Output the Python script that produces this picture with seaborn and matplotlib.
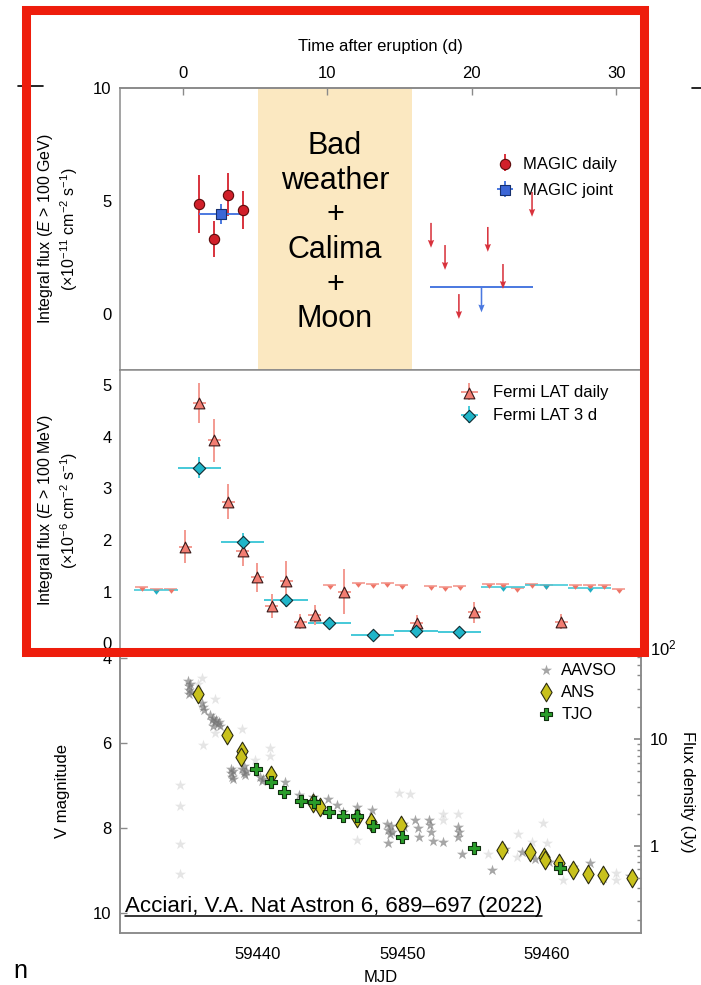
import numpy as np
import seaborn as sns
import matplotlib.pyplot as plt
from matplotlib.lines import Line2D
from matplotlib.patches import Rectangle
from matplotlib.markers import MarkerStyle
from matplotlib.legend_handler import HandlerTuple
from matplotlib.ticker import LogLocator, NullFormatter

# eruption time (MJD) used for the upper axis
T0 = 59434.8
X_RANGE = (59430.45, 59466.5)
bad_weather = (59440.0, 59450.65)

# MAGIC, flux in 1e-11 cm^-2 s^-1
magic_mjd = [59435.92, 59436.95, 59437.92, 59438.96]
magic_flux = [4.87, 3.32, 5.27, 4.60]
magic_err = [1.30, 0.78, 0.95, 0.82]
magic_joint_mjd = [59437.45]
magic_joint_flux = [4.42]
magic_joint_xerr = [1.52]
magic_joint_err = [0.46]
magic_ul_mjd = [59451.97, 59452.94, 59453.90, 59455.90, 59456.95, 59458.96]
magic_ul = [4.03, 3.05, 0.88, 3.85, 2.21, 5.40]
magic_joint_ul_mjd = [59455.45]
magic_joint_ul = [1.20]
magic_joint_ul_xerr = [3.55]

# Fermi LAT, flux in 1e-6 cm^-2 s^-1
lat_mjd = [59434.95, 59435.94, 59436.96, 59437.95, 59438.94, 59439.95, 59440.95,
           59441.94, 59442.93, 59443.94, 59445.97, 59450.98, 59454.97, 59460.97]
lat_flux = [1.87, 4.65, 3.93, 2.74, 1.78, 1.28, 0.72, 1.21, 0.42, 0.55, 1.00, 0.40, 0.60, 0.42]
lat_err = [0.32, 0.39, 0.42, 0.34, 0.28, 0.28, 0.24, 0.38, 0.15, 0.20, 0.43, 0.15, 0.20, 0.15]
lat_ul_mjd = [59431.95, 59432.95, 59433.95, 59444.95, 59446.95, 59447.95, 59448.95,
              59449.95, 59451.95, 59452.95, 59453.95, 59455.95, 59456.95, 59457.95,
              59458.95, 59459.95, 59461.95, 59462.95, 59463.95, 59464.95]
lat_ul = [1.08, 1.05, 1.06, 1.13, 1.17, 1.15, 1.17, 1.13, 1.10, 1.09, 1.10, 1.15,
          1.15, 1.07, 1.15, 1.13, 1.12, 1.12, 1.12, 1.06]
lat3_mjd = [59435.94, 59438.94, 59441.94, 59444.94, 59447.94, 59450.94, 59453.94]
lat3_flux = [3.40, 1.97, 0.83, 0.40, 0.16, 0.24, 0.21]
lat3_err = [0.21, 0.16, 0.13, 0.08, 0.06, 0.07, 0.07]
lat3_ul_mjd = [59432.94, 59456.94, 59459.94, 59462.94]
lat3_ul = [1.03, 1.08, 1.12, 1.07]

# optical, V magnitude
aavso_mjd = [59435.15, 59435.2, 59435.25, 59435.3, 59435.35, 59435.2, 59436.15, 59436.2,
             59436.25, 59436.7, 59436.8, 59436.9, 59437.0, 59437.1, 59437.2, 59437.3,
             59437.4, 59436.9, 59438.1, 59438.15, 59438.2, 59438.25, 59438.3, 59438.9,
             59439.0, 59439.1, 59439.2, 59439.05, 59440.15, 59440.25, 59440.35, 59441.87,
             59442.86, 59443.83, 59444.87, 59445.44, 59445.9, 59446.83, 59447.87, 59448.9,
             59449.0, 59449.1, 59449.2, 59449.3, 59448.97, 59450.05, 59450.1, 59450.87,
             59451.1, 59451.16, 59451.86, 59451.9, 59451.95, 59452.09, 59452.83, 59453.86,
             59453.9, 59453.86, 59454.1, 59456.17, 59457.09, 59458.25, 59459.17, 59460.1,
             59461.82, 59462.98, 59463.9, 59465.75]
aavso_v = [4.55, 4.65, 4.75, 4.62, 4.80, 4.85, 5.05, 5.15, 5.22, 5.35, 5.45, 5.40, 5.50,
           5.45, 5.55, 5.50, 5.60, 5.60, 6.60, 6.70, 6.80, 6.65, 6.85, 6.60, 6.70, 6.75,
           6.65, 6.55, 6.80, 6.90, 6.85, 6.92, 7.22, 7.26, 7.32, 7.46, 7.62, 7.50, 7.58,
           7.90, 8.05, 8.15, 7.95, 8.10, 8.35, 7.90, 7.97, 7.81, 7.99, 8.20, 7.81, 7.93,
           8.09, 8.30, 8.34, 7.98, 8.10, 8.20, 8.60, 8.98, 8.50, 8.57, 8.73, 8.79, 8.91,
           8.83, 9.18, 9.13]
aavso_faint_mjd = [59434.6, 59434.6, 59434.6, 59434.6, 59436.1, 59435.85, 59437.0, 59437.05,
                   59436.2, 59438.87, 59440.8, 59440.8, 59439.8, 59446.87, 59449.78, 59450.52,
                   59452.83, 59452.83, 59453.86, 59455.94, 59457.9, 59458.01, 59458.94,
                   59459.75, 59459.98, 59461.13, 59462.98, 59464.8, 59464.8]
aavso_faint_v = [6.99, 7.48, 8.38, 9.09, 4.47, 4.60, 4.97, 5.77, 6.05, 5.67, 6.12, 6.30, 6.40,
                 8.28, 7.18, 7.20, 7.66, 7.80, 7.66, 8.60, 8.67, 8.15, 8.34, 7.89, 8.36, 9.22,
                 9.10, 9.06, 9.22]
ans_mjd = [59435.87, 59437.83, 59438.87, 59438.82, 59440.88, 59443.83, 59444.29, 59446.83,
           59447.82, 59449.87, 59456.86, 59458.82, 59459.81, 59459.83, 59460.83, 59461.82,
           59462.86, 59463.85, 59465.86]
ans_v = [4.85, 5.81, 6.19, 6.32, 6.75, 7.42, 7.50, 7.77, 7.85, 7.93, 8.52, 8.57, 8.69,
         8.75, 8.82, 8.99, 9.09, 9.10, 9.18]
tjo_mjd = [59439.84, 59440.88, 59441.80, 59442.95, 59443.88, 59444.91, 59445.90, 59446.87,
           59447.94, 59449.94, 59454.95, 59460.90]
tjo_v = [6.62, 6.91, 7.16, 7.36, 7.38, 7.63, 7.71, 7.71, 7.95, 8.20, 8.46, 8.95]
ZP_JY = 2320.0  # flux density at V = 0 for the right-hand axis

sns.set_theme(style="white")
plt.rcParams["font.family"] = ["Liberation Sans", "DejaVu Sans"]
plt.rcParams["mathtext.fontset"] = "custom"
plt.rcParams["mathtext.rm"] = "Liberation Sans"
plt.rcParams["mathtext.it"] = "Liberation Sans:italic"
plt.rcParams["mathtext.bf"] = "Liberation Sans:bold"
plt.rcParams["text.color"] = "black"
plt.rcParams["axes.labelcolor"] = "black"

GREY = "#8a8a8a"
CARET = MarkerStyle([(-1, 0), (1, 0), (0, -1.3)])


def fy(px):
    return 1 - px / 985


fig = plt.figure(figsize=(7.01, 9.85), dpi=100)
left, width = 120 / 701, 521 / 701
ax1 = fig.add_axes([left, fy(370), width, 282 / 985])
ax2 = fig.add_axes([left, fy(650), width, 280 / 985])
ax3 = fig.add_axes([left, fy(933), width, 283 / 985])

for ax in (ax1, ax2, ax3):
    for sp in ax.spines.values():
        sp.set_color(GREY)
        sp.set_linewidth(1.1)
    ax.tick_params(direction="in", length=5, width=1, color=GREY, labelcolor="black",
                   labelsize=12, pad=6)
    ax.set_xlim(*X_RANGE)
for ax in (ax1, ax2):
    ax.tick_params(axis="x", bottom=False, labelbottom=False)

# ---- MAGIC ----
ax1.axvspan(*bad_weather, color="#fbe8c1", lw=0, zorder=0)
ax1.text(sum(bad_weather) / 2, 3.6, "Bad\nweather\n+\nCalima\n+\nMoon",
         ha="center", va="center", fontsize=22, linespacing=1.2, color="black")

eb_md = ax1.errorbar(magic_mjd, magic_flux, yerr=magic_err, fmt="none",
                     ecolor="#d8323c", elinewidth=1.4, zorder=2)
sns.scatterplot(x=magic_mjd, y=magic_flux, ax=ax1, marker="o", s=55, color="#d1202a",
                edgecolor="#5c0a0a", linewidth=0.8, zorder=4)
sc_md = ax1.collections[-1]
eb_mj = ax1.errorbar(magic_joint_mjd, magic_joint_flux, xerr=magic_joint_xerr,
                     yerr=magic_joint_err, fmt="none", ecolor="#4a78e0", elinewidth=1.4, zorder=2)
sns.scatterplot(x=magic_joint_mjd, y=magic_joint_flux, ax=ax1, marker="s", s=48,
                color="#3c66d6", edgecolor="#17306e", linewidth=0.8, zorder=5)
sc_mj = ax1.collections[-1]

n = len(magic_ul)
ax1.quiver(magic_ul_mjd, magic_ul, [0] * n, [-1.1] * n, angles="xy", scale_units="xy",
           scale=1, color="#d8323c", width=0.003, headwidth=4, headlength=5,
           headaxislength=4.5, zorder=3)
ax1.errorbar(magic_joint_ul_mjd, magic_joint_ul, xerr=magic_joint_ul_xerr, fmt="none",
             ecolor="#4a78e0", elinewidth=1.4, zorder=2)
ax1.quiver(magic_joint_ul_mjd, magic_joint_ul, [0], [-1.1], angles="xy", scale_units="xy",
           scale=1, color="#4a78e0", width=0.003, headwidth=4, headlength=5,
           headaxislength=4.5, zorder=3)

ax1.set_ylim(-2.48, 10)
ax1.set_yticks([0, 5, 10])
ax1.set_ylabel("Integral flux ($\\mathit{E}$ > 100 GeV)\n(×10$^{-11}$ cm$^{-2}$ s$^{-1}$)",
               fontsize=11.5)
ax1.yaxis.set_label_coords(-0.077, 0.5)
ax1.legend([(eb_md, sc_md), (eb_mj, sc_mj)], ["MAGIC daily", "MAGIC joint"],
           handler_map={tuple: HandlerTuple(ndivide=1)}, loc="upper left",
           bbox_to_anchor=(0.72, 0.757), frameon=False, fontsize=12, handlelength=1.2,
           handletextpad=0.5, labelspacing=0.68, borderpad=0, borderaxespad=0)

sec = ax1.secondary_xaxis("top", functions=(lambda m: m - T0, lambda d: d + T0))
sec.set_xticks([0, 10, 20, 30])
sec.tick_params(direction="in", length=5, width=1, color=GREY, labelcolor="black",
                labelsize=12, pad=5)
sec.spines["top"].set_color(GREY)
sec.set_xlabel("Time after eruption (d)", fontsize=12, labelpad=11)

# ---- Fermi LAT ----
ax2.errorbar(lat_ul_mjd, lat_ul, xerr=0.45, fmt="none", ecolor="#f39a90", elinewidth=1.2, zorder=2)
sns.scatterplot(x=lat_ul_mjd, y=lat_ul, ax=ax2, marker=CARET, s=38, color="#ee7466",
                linewidth=0, zorder=3)
ax2.errorbar(lat3_ul_mjd, lat3_ul, xerr=1.5, fmt="none", ecolor="#45c9d8", elinewidth=1.2, zorder=2)
sns.scatterplot(x=lat3_ul_mjd, y=lat3_ul, ax=ax2, marker=CARET, s=38, color="#1fb0c4",
                linewidth=0, zorder=3)

eb_l3 = ax2.errorbar(lat3_mjd, lat3_flux, xerr=1.5, yerr=lat3_err, fmt="none",
                     ecolor="#45c9d8", elinewidth=1.4, zorder=2)
sns.scatterplot(x=lat3_mjd, y=lat3_flux, ax=ax2, marker="D", s=40, color="#1fb5c9",
                edgecolor="#102a30", linewidth=0.8, zorder=5)
sc_l3 = ax2.collections[-1]
eb_ld = ax2.errorbar(lat_mjd, lat_flux, xerr=0.45, yerr=lat_err, fmt="none",
                     ecolor="#f39a90", elinewidth=1.4, zorder=3)
sns.scatterplot(x=lat_mjd, y=lat_flux, ax=ax2, marker="^", s=60, color="#f27d72",
                edgecolor="#3a1a1a", linewidth=0.8, zorder=4)
sc_ld = ax2.collections[-1]

ax2.set_ylim(-0.13, 5.29)
ax2.set_yticks([0, 1, 2, 3, 4, 5])
ax2.set_ylabel("Integral flux ($\\mathit{E}$ > 100 MeV)\n(×10$^{-6}$ cm$^{-2}$ s$^{-1}$)",
               fontsize=11.5)
ax2.yaxis.set_label_coords(-0.077, 0.5)
ax2.legend([(eb_ld, sc_ld), (eb_l3, sc_l3)], ["Fermi LAT daily", "Fermi LAT 3 d"],
           handler_map={tuple: HandlerTuple(ndivide=1)}, loc="upper left",
           bbox_to_anchor=(0.651, 0.945), frameon=False, fontsize=12, handlelength=1.2,
           handletextpad=0.85, labelspacing=0.48, borderpad=0, borderaxespad=0)

# ---- optical ----
sns.scatterplot(x=aavso_faint_mjd, y=aavso_faint_v, ax=ax3, marker="*", s=70, color="#8a8a8a",
                alpha=0.22, linewidth=0, zorder=2)
sns.scatterplot(x=aavso_mjd, y=aavso_v, ax=ax3, marker="*", s=70, color="#777777",
                alpha=0.65, linewidth=0, zorder=2)
sc_aavso = ax3.collections[-1]
sns.scatterplot(x=ans_mjd, y=ans_v, ax=ax3, marker="d", s=90, color="#c8c11c",
                edgecolor="#2b2b10", linewidth=0.8, zorder=3)
sc_ans = ax3.collections[-1]
sns.scatterplot(x=tjo_mjd, y=tjo_v, ax=ax3, marker="P", s=75, color="#2a9d2a",
                edgecolor="#10300f", linewidth=0.8, zorder=4)
sc_tjo = ax3.collections[-1]

v_bottom, v_top = 10.47, 3.81
ax3.set_ylim(v_bottom, v_top)
ax3.set_yticks([4, 6, 8, 10])
ax3.set_xticks([59440, 59450, 59460])
ax3.tick_params(axis="x", pad=10)
ax3.set_xlabel("MJD", fontsize=12, labelpad=6)
ax3.set_ylabel("V magnitude", fontsize=12)
ax3.yaxis.set_label_coords(-0.096, 0.5)
ax3.legend([sc_aavso, sc_ans, sc_tjo], ["AAVSO", "ANS", "TJO"], loc="upper left",
           bbox_to_anchor=(0.802, 0.955), frameon=False, fontsize=12, handlelength=1.0,
           handletextpad=0.4, labelspacing=0.42, borderpad=0, borderaxespad=0)

axr = ax3.twinx()
axr.set_yscale("log")
axr.set_ylim(ZP_JY * 10 ** (-0.4 * v_bottom), ZP_JY * 10 ** (-0.4 * v_top))
axr.set_yticks([1, 10])
axr.set_yticklabels(["1", "10"])
axr.yaxis.set_minor_locator(LogLocator(base=10, subs=np.arange(2, 10)))
axr.yaxis.set_minor_formatter(NullFormatter())
axr.tick_params(which="both", direction="in", color=GREY, labelcolor="black",
                labelsize=12, pad=6)
axr.tick_params(which="major", length=5)
axr.tick_params(which="minor", length=3)
for sp in axr.spines.values():
    sp.set_color(GREY)
    sp.set_linewidth(1.1)
axr.text(1.017, 1.005, "10$^2$", transform=axr.transAxes, ha="left", va="center", fontsize=12)
axr.set_ylabel("Flux density (Jy)", rotation=270, va="bottom", fontsize=12)
axr.yaxis.set_label_coords(1.075, 0.5)

# ---- annotations on top of the figure ----
fig.add_artist(Rectangle((26 / 701, fy(651.5)), 618 / 701, 642 / 985, transform=fig.transFigure,
                         fill=False, edgecolor="#ee1d0c", lw=6.5, zorder=10))
fig.add_artist(Line2D([18 / 701, 43 / 701], [fy(86), fy(86)], color="black", lw=1.2, zorder=9))
fig.add_artist(Line2D([692 / 701, 701 / 701], [fy(88), fy(88)], color="black", lw=1.2, zorder=9))
fig.text(13 / 701, fy(978), "n", fontsize=18)

cite = fig.text(125 / 701, fy(912), "Acciari, V.A. Nat Astron 6, 689–697 (2022)",
                fontsize=16, va="baseline")
fig.canvas.draw()
bb = cite.get_window_extent(fig.canvas.get_renderer())
fig.add_artist(Line2D([bb.x0 / fig.bbox.width, bb.x1 / fig.bbox.width], [fy(916), fy(916)],
                      color="black", lw=1.1))

fig.savefig("out.png", dpi=100)
